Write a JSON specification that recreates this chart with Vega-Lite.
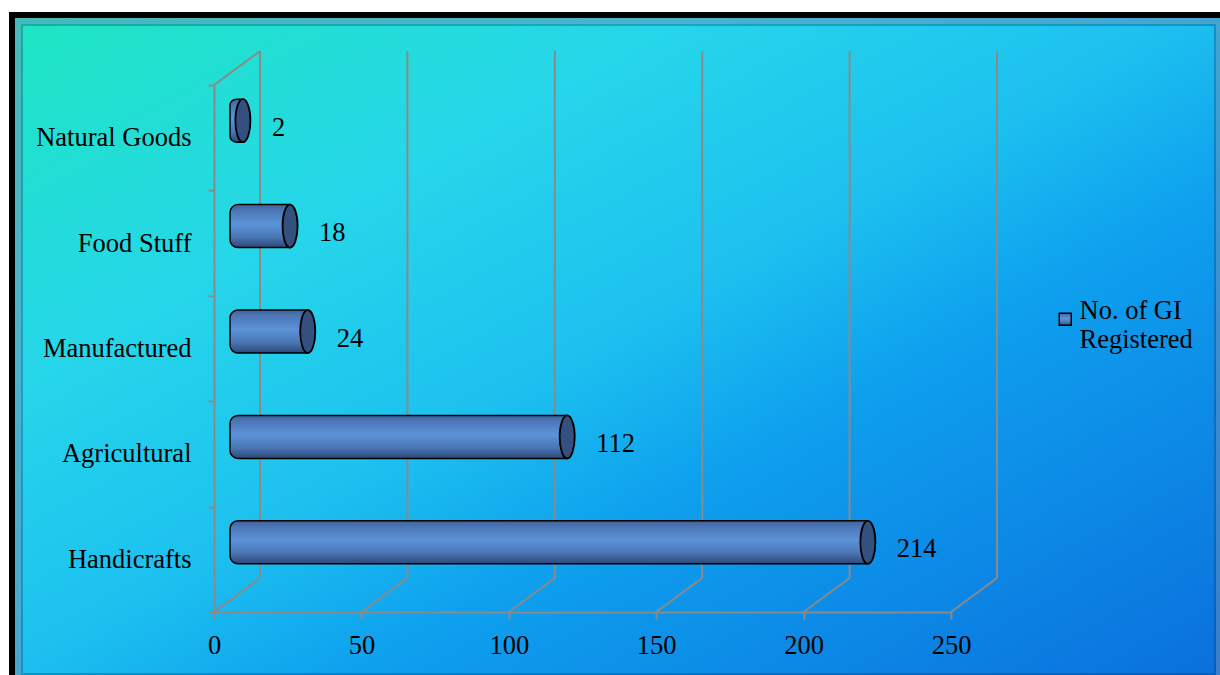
{
  "$schema": "https://vega.github.io/schema/vega-lite/v6.json",
  "width": 1211,
  "height": 663,
  "autosize": {"type": "none"},
  "padding": {"left": 9, "top": 12, "right": 0, "bottom": 0},
  "background": "white",
  "config": {"view": {"stroke": null}, "font": "Liberation Serif"},
  "layer": [
    {
      "data": {"values": [{}]},
      "mark": {"type": "rect", "clip": true, "x2Offset": 8, "y2Offset": 12,
        "color": {"gradient": "linear", "x1": 0, "y1": 0, "x2": 1, "y2": 1,
          "stops": [
            {"offset": 0, "color": "#1ee6c0"},
            {"offset": 0.28, "color": "#26d6ea"},
            {"offset": 0.49, "color": "#1cc0ef"},
            {"offset": 0.63, "color": "#0ea0ee"},
            {"offset": 1, "color": "#0a6edc"}
          ]}},
      "encoding": {"x": {"value": 0}, "x2": {"value": "width"}, "y": {"value": 0}, "y2": {"value": "height"}}
    },
    {
      "data": {"values": [{}]},
      "mark": {"type": "rect", "clip": true, "x2Offset": 8, "y2Offset": 12, "fillOpacity": 0, "stroke": "#0b3c78", "strokeOpacity": 0.35, "strokeWidth": 28},
      "encoding": {"x": {"value": 0}, "x2": {"value": "width"}, "y": {"value": 0}, "y2": {"value": "height"}}
    },
    {
      "data": {"values": [{}]},
      "mark": {"type": "rect", "clip": true, "x2Offset": 8, "y2Offset": 12, "fillOpacity": 0, "stroke": "#ffffff", "strokeOpacity": 0.2, "strokeWidth": 24},
      "encoding": {"x": {"value": 0}, "x2": {"value": "width"}, "y": {"value": 0}, "y2": {"value": "height"}}
    },
    {
      "data": {"values": [{}]},
      "mark": {"type": "rect", "clip": true, "x2Offset": 8, "y2Offset": 12, "fillOpacity": 0, "stroke": "#000000", "strokeWidth": 12},
      "encoding": {"x": {"value": 0}, "x2": {"value": "width"}, "y": {"value": 0}, "y2": {"value": "height"}}
    },
    {
      "data": {"values": [{"v": 0}, {"v": 50}, {"v": 100}, {"v": 150}, {"v": 200}, {"v": 250}]},
      "layer": [
        {
          "mark": {"type": "rule", "color": "#8a8a8a", "strokeWidth": 2, "xOffset": 46, "yOffset": -86.7, "y2Offset": 18.7},
          "encoding": {
            "x": {"field": "v", "type": "quantitative", "title": null},
            "y": {"datum": "Natural Goods", "type": "nominal", "title": null},
            "y2": {"datum": "Handicrafts"}
          }
        },
        {
          "mark": {"type": "rule", "color": "#8a8a8a", "strokeWidth": 2, "x2Offset": 46, "yOffset": 52.7, "y2Offset": 18.7},
          "encoding": {
            "x": {"field": "v", "type": "quantitative", "title": null},
            "x2": {"field": "v"},
            "y": {"datum": "Handicrafts", "type": "nominal", "title": null},
            "y2": {"datum": "Handicrafts"}
          }
        },
        {
          "data": {"values": [{"v": 0}]},
          "mark": {"type": "rule", "color": "#8a8a8a", "strokeWidth": 2, "x2Offset": 46, "yOffset": -52.7, "y2Offset": -86.7},
          "encoding": {
            "x": {"field": "v", "type": "quantitative", "title": null},
            "x2": {"field": "v"},
            "y": {"datum": "Natural Goods", "type": "nominal", "title": null},
            "y2": {"datum": "Natural Goods"}
          }
        }
      ]
    },
    {
      "data": {"values": [
        {"category": "Natural Goods", "count": 2, "series": "No. of GI Registered"},
        {"category": "Food Stuff", "count": 18, "series": "No. of GI Registered"},
        {"category": "Manufactured", "count": 24, "series": "No. of GI Registered"},
        {"category": "Agricultural", "count": 112, "series": "No. of GI Registered"},
        {"category": "Handicrafts", "count": 214, "series": "No. of GI Registered"}
      ]},
      "layer": [
        {
          "mark": {"type": "bar", "height": 43, "yOffset": -17, "xOffset": 23, "x2Offset": 16,
            "cornerRadiusTopLeft": 8, "cornerRadiusBottomLeft": 8,
            "strokeWidth": 1.5,
            "color": {"gradient": "linear", "x1": 0, "y1": 0, "x2": 0, "y2": 1,
              "stops": [
                {"offset": 0, "color": "#3f639c"},
                {"offset": 0.15, "color": "#4d78b8"},
                {"offset": 0.45, "color": "#5c93da"},
                {"offset": 0.75, "color": "#4a76b4"},
                {"offset": 1, "color": "#2c4878"}
              ]}},
          "encoding": {
            "y": {"field": "category", "type": "nominal",
              "scale": {"domain": ["Natural Goods", "Food Stuff", "Manufactured", "Agricultural", "Handicrafts"], "range": [73, 600], "paddingInner": 0, "paddingOuter": 0},
              "axis": {"title": null, "zindex": 1, "offset": -205, "tickBand": "extent", "domainColor": "#8a8a8a", "domainWidth": 2, "tickColor": "#8a8a8a", "tickWidth": 2, "tickSize": 6, "labelFont": "Liberation Serif", "labelFontSize": 26.5, "labelColor": "#000000", "labelPadding": 17, "labelLimit": 400, "grid": false}},
            "x": {"field": "count", "type": "quantitative", "title": null, "stack": null,
              "scale": {"domain": [0, 250], "range": [205, 942], "nice": false, "zero": true},
              "axis": {"title": null, "zindex": 1, "values": [0, 50, 100, 150, 200, 250], "offset": -63, "domainColor": "#8a8a8a", "domainWidth": 2, "tickColor": "#8a8a8a", "tickWidth": 2, "tickSize": 7, "labelFont": "Liberation Serif", "labelFontSize": 26.5, "labelColor": "#000000", "labelPadding": 13, "labelFlush": false, "grid": false}},
            "x2": {"datum": 0},
            "stroke": {"field": "series", "type": "nominal", "scale": {"range": ["#000000"]},
              "legend": {"title": null, "orient": "none", "legendX": 1043, "legendY": 294, "padding": 0,
                "symbolType": "square", "symbolSize": 144, "symbolStrokeWidth": 1.5,
                "labelFont": "Liberation Serif", "labelFontSize": 26.5, "labelColor": "#000000", "labelLimit": 400, "labelOffset": 1, "labelBaseline": "alphabetic",
                "labelExpr": "['No. of GI', 'Registered']"}}
          }
        },
        {
          "mark": {"type": "point", "shape": "M0,-1A0.35,1 0 1,1 0,1A0.35,1 0 1,1 0,-1Z", "size": 1849, "filled": true, "fill": "#34507e", "stroke": "#000000", "strokeWidth": 1.8, "opacity": 1, "xOffset": 23, "yOffset": -17},
          "encoding": {
            "y": {"field": "category", "type": "nominal"},
            "x": {"field": "count", "type": "quantitative", "title": null}
          }
        },
        {
          "mark": {"type": "text", "font": "Liberation Serif", "fontSize": 26.5, "color": "#000000", "align": "left", "baseline": "middle", "xOffset": 52, "yOffset": -10},
          "encoding": {
            "y": {"field": "category", "type": "nominal"},
            "x": {"field": "count", "type": "quantitative", "title": null},
            "text": {"field": "count", "type": "quantitative"}
          }
        }
      ]
    }
  ]
}
